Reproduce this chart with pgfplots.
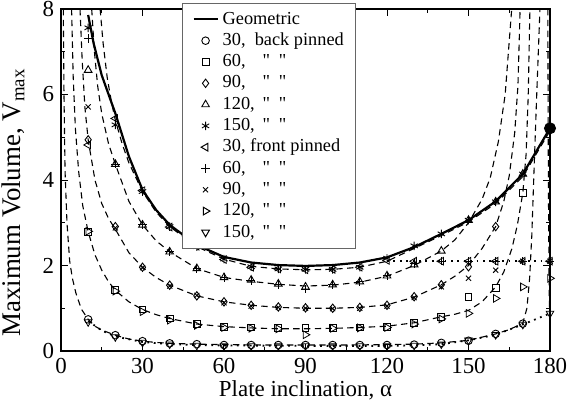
\documentclass[border=0pt]{standalone}
\usepackage{pgfplots}
\pgfplotsset{compat=1.18}
\usepackage{fontspec}
\setmainfont{Liberation Serif}
% straight ditto marks, without the TeX quote mapping
\newfontfamily\qfont{Liberation Serif}[Ligatures=TeXOff]
\newcommand\dq{{\qfont"}}
\newcommand\ditto[1]{\makebox[20bp][l]{#1,}\dq\hspace{4.4bp}\dq}

\pgfplotsset{
  theory/.style={black, line width=0.55bp, dash pattern=on 3.2bp off 2.2bp, no marks, forget plot},
  limit/.style={black, line width=0.9bp, dash pattern=on 0.9bp off 2.3bp, no marks, forget plot},
  legend image code/.code={\draw[mark repeat=2,mark phase=2,#1] plot coordinates {(0bp,0bp) (6bp,0bp) (12bp,0bp)};},
  sim/.style={only marks, black, mark options={line width=0.45bp, solid, fill=none},
    legend image code/.code={\draw[mark repeat=2,mark phase=2,##1] plot coordinates {(0bp,0bp) (6bp,0bp) (12bp,0bp)};}},
}

\begin{document}
\begin{tikzpicture}
\useasboundingbox (-30.5bp,-25bp) rectangle (258.5bp,175.5bp);
\begin{axis}[
  scale only axis,
  width=244.5bp, height=171bp,
  xmin=0, xmax=180, ymin=0, ymax=8,
  xtick={0,30,...,180}, ytick={0,2,4,6,8},
  minor xtick={15,45,...,165}, minor ytick={1,3,5,7},
  tick align=inside,
  major tick length=3.5bp, minor tick length=2bp,
  every tick/.style={black, line width=0.5bp},
  axis line style={line width=0.6bp},
  /pgf/number format/assume math mode=true,
  tick label style={font=\fontsize{11.5}{13}\selectfont},
  xticklabel style={inner ysep=0bp, yshift=-3.4bp},
  every axis x label/.style={at={(rel axis cs:0.5,-0.1316)}, anchor=base, inner sep=0bp, font=\fontsize{11.5}{13}\selectfont},
  every axis y label/.style={at={(rel axis cs:-0.098,0.434)}, rotate=90, anchor=center, inner sep=0bp, font=\fontsize{13.5}{15}\selectfont},
  xlabel={Plate inclination, α},
  ylabel={Maximum Volume, V\textsubscript{max}},
  legend style={at={(0.2474,1.0175)}, anchor=north west, draw=black!60, line width=0.5bp,
    fill=white, inner xsep=5bp, inner ysep=2.6bp, row sep=0bp,
    nodes={font=\fontsize{9.2}{11}\selectfont, inner xsep=1bp, inner ysep=0.75bp, text height=6.9bp, text depth=2.25bp, anchor=west},
    /tikz/every odd column/.append style={column sep=1bp}},
  legend cell align=left,
]
% theory curves for the five contact angles
\addplot[theory] coordinates {(0.85,8) (1.1,6) (1.5,4.2) (2.2,3.0) (3.2,2.1) (4.2,1.7) (5.5,1.35) (7.5,0.98) (10,0.74) (12.5,0.58) (15,0.49) (20,0.37) (25,0.28) (30,0.23) (35,0.2) (40,0.18) (50,0.16) (60,0.15) (75,0.14) (90,0.14) (105,0.14) (120,0.15) (130,0.16) (140,0.19) (150,0.25) (160,0.4) (165,0.5) (170,0.65) (171.5,1.0) (172.5,1.7) (173.3,2.7) (174,4.0) (175,5.8) (176.3,8)};
\addplot[theory] coordinates {(3.9,8) (4.5,6.4) (5.3,5.2) (6.5,4.2) (8,3.4) (10,2.79) (12.5,2.25) (15,1.89) (17.5,1.62) (20,1.42) (25,1.15) (30,0.97) (35,0.85) (40,0.76) (50,0.63) (60,0.57) (70,0.54) (80,0.52) (90,0.52) (100,0.53) (110,0.55) (120,0.58) (130,0.66) (140,0.8) (145,0.86) (150,0.95) (155,1.15) (160,1.5) (163,1.85) (166,2.4) (168,2.95) (170,3.7) (171.2,4.6) (172,6) (172.6,8)};
\addplot[theory] coordinates {(7,8) (7.8,6.8) (8.8,5.7) (10,4.94) (12.5,4.0) (15,3.45) (17.5,3.1) (20,2.85) (25,2.3) (30,1.96) (35,1.72) (40,1.54) (50,1.29) (60,1.15) (70,1.07) (80,1.02) (90,1.0) (100,1.0) (110,1.02) (120,1.08) (130,1.26) (140,1.55) (145,1.75) (150,2.0) (155,2.4) (160,2.91) (163,3.5) (165,4.1) (167,5.1) (168.2,6.2) (169,8)};
\addplot[theory] coordinates {(11.3,8) (12.3,7.0) (13.5,6.2) (15,5.55) (17.5,4.85) (20,4.37) (25,3.5) (30,2.95) (35,2.58) (40,2.32) (50,1.93) (60,1.72) (70,1.63) (80,1.56) (90,1.52) (100,1.54) (110,1.61) (120,1.75) (130,2.0) (140,2.34) (145,2.6) (150,3.0) (155,3.55) (158,4.05) (161,4.9) (163.5,6.0) (165.9,8)};
\addplot[theory] coordinates {(14.4,8) (15.5,7.2) (17,6.4) (18.5,5.85) (20,5.4) (22.5,4.85) (25,4.4) (30,3.73) (35,3.25) (40,2.91) (50,2.44) (60,2.15) (70,1.98) (80,1.92) (90,1.9) (100,1.91) (110,1.96) (120,2.1) (130,2.4) (140,2.7) (150,3.02) (160,3.45) (170,4.08) (180,5.15)};
\addplot[theory] coordinates {(179.2,8) (179.4,4) (179.6,2.06) (179.8,0.88)};
% front-pinned limits
\addplot[limit] coordinates {(120,2.1) (178,2.1)};
\addplot[limit] coordinates {(10,0.7) (15,0.48) (20,0.34) (30,0.21) (40,0.16) (50,0.14) (60,0.13) (90,0.12) (120,0.12) (130,0.13) (140,0.16) (150,0.25) (160,0.38) (170,0.62) (180,0.88)};

% geometric limit
\addplot[black, line width=1.1bp, no marks] coordinates {(10,7.86) (12,7.2) (15,6.45) (20,5.56) (25,4.55) (30,3.77) (35,3.3) (40,2.95) (50,2.48) (60,2.2) (70,2.07) (80,2.01) (90,1.99) (100,2.01) (110,2.07) (120,2.19) (130,2.43) (140,2.74) (150,3.06) (160,3.5) (170,4.14) (180,5.21)};
\addlegendentry{Geometric}

% back pinned
\addplot[sim, mark=o, mark size=1.9bp] coordinates {(10,0.74) (20,0.37) (30,0.23) (40,0.18) (50,0.16) (60,0.14) (70,0.14) (80,0.14) (90,0.14) (100,0.14) (110,0.14) (120,0.14) (130,0.15) (140,0.19) (150,0.24) (160,0.40) (170,0.64)};
\addlegendentry{30,\ \ back pinned}
\addplot[sim, mark=square, mark size=1.7bp] coordinates {(10,2.79) (20,1.42) (30,0.97) (40,0.76) (50,0.63) (60,0.57) (70,0.55) (80,0.53) (90,0.53) (100,0.53) (110,0.55) (120,0.57) (130,0.65) (140,0.80) (150,1.27) (160,1.47) (170,3.69)};
\addlegendentry{\ditto{60}}
\addplot[sim, mark=diamond, mark size=2.1bp] coordinates {(10,4.94) (20,2.91) (30,1.96) (40,1.54) (50,1.29) (60,1.15) (70,1.07) (80,1.03) (90,1.01) (100,1.0) (110,1.02) (120,1.07) (130,1.27) (140,1.55) (150,1.97) (160,2.91)};
\addlegendentry{\ditto{90}}
\addplot[sim, mark=triangle, mark size=2.2bp] coordinates {(10,6.57) (20,4.37) (30,2.95) (40,2.32) (50,1.93) (60,1.72) (70,1.66) (80,1.57) (90,1.50) (100,1.55) (110,1.62) (120,1.76) (130,2.02) (140,2.34) (150,3.06) (160,3.49) (170,4.14)};
\addlegendentry{\ditto{120}}
\addplot[sim, mark=asterisk, mark size=2.1bp] coordinates {(10,7.56) (20,5.29) (30,3.73) (40,2.91) (50,2.44) (60,2.15) (70,1.97) (80,1.92) (90,1.91) (100,1.91) (110,1.96) (120,2.17) (130,2.46) (140,2.74) (150,3.06) (160,3.49) (170,4.14) (180,5.21)};
\addlegendentry{\ditto{150}}

% front pinned
\addplot[sim, mark=triangle, mark size=2.2bp, mark options={rotate=90}] coordinates {(10,4.82) (20,5.44) (30,3.75) (40,2.9) (50,2.45) (60,2.14) (70,1.96) (80,1.92) (90,1.9) (100,1.91) (110,1.96) (120,2.12) (130,2.1) (140,2.1) (150,2.1) (160,2.1) (170,2.1) (180,2.1)};
\addlegendentry{30, front pinned}
\addplot[sim, mark=+, mark size=2.1bp] coordinates {(10,7.31) (20,4.37) (30,2.95) (40,2.32) (50,1.93) (60,1.72) (70,1.64) (80,1.56) (90,1.45) (100,1.55) (110,1.62) (120,1.76) (130,2.05) (140,2.1) (150,2.1) (160,2.1) (170,2.1) (180,2.1)};
\addlegendentry{\ditto{60}}
\addplot[sim, mark=x, mark size=1.8bp] coordinates {(10,5.71) (20,2.88) (30,1.95) (40,1.52) (50,1.3) (60,1.13) (70,1.05) (80,1.02) (90,1.0) (100,0.99) (110,1.0) (120,1.05) (130,1.25) (140,1.5) (150,1.70) (160,1.89) (170,2.1) (180,2.1)};
\addlegendentry{\ditto{90}}
\addplot[sim, mark=triangle, mark size=2.2bp, mark options={rotate=-90}] coordinates {(10,2.8) (20,1.4) (30,0.92) (40,0.72) (50,0.6) (60,0.55) (70,0.53) (80,0.52) (90,0.38) (100,0.53) (110,0.54) (120,0.55) (130,0.63) (140,0.75) (150,0.88) (160,1.23) (170,1.5) (180,1.7)};
\addlegendentry{\ditto{120}}
\addplot[sim, mark=triangle, mark size=2.2bp, mark options={rotate=180}] coordinates {(10,0.68) (20,0.33) (30,0.2) (40,0.16) (50,0.13) (60,0.12) (70,0.12) (80,0.12) (90,0.12) (100,0.12) (110,0.12) (120,0.12) (130,0.13) (140,0.16) (150,0.25) (160,0.38) (170,0.62) (180,0.88)};
\addlegendentry{\ditto{150}}

% coinciding points at the right end
\addplot[only marks, black, mark=*, mark size=2.8bp, forget plot] coordinates {(180,5.21)};
\end{axis}
\end{tikzpicture}
\end{document}
